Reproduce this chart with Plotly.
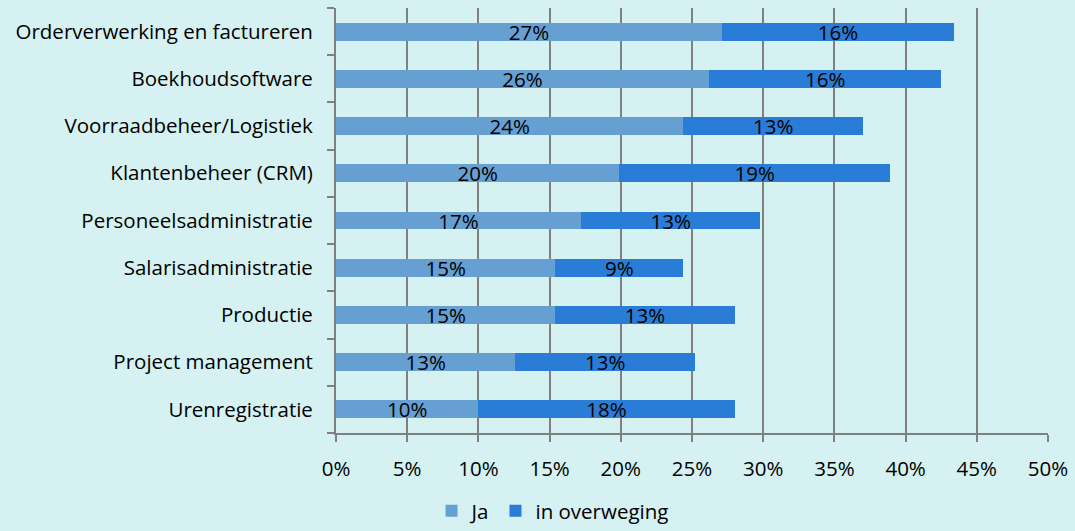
import plotly.graph_objects as go

categories = ["Orderverwerking en factureren", "Boekhoudsoftware", "Voorraadbeheer/Logistiek",
              "Klantenbeheer (CRM)", "Personeelsadministratie", "Salarisadministratie",
              "Productie", "Project management", "Urenregistratie"]
ja = [27.1, 26.2, 24.4, 19.9, 17.2, 15.4, 15.4, 12.6, 10.0]
overweging = [16.3, 16.3, 12.6, 19.0, 12.6, 9.0, 12.6, 12.6, 18.0]
x_ticks = [0, 5, 10, 15, 20, 25, 30, 35, 40, 45, 50]

FONT = "Open Sans"
FS = 20.5
fig = go.Figure()
fig.add_trace(go.Bar(y=categories, x=ja, name="Ja", orientation="h",
                     marker=dict(color="#669FD2", line=dict(width=0)),
                     texttemplate="%{x:.0f}%", textposition="inside", insidetextanchor="middle",
                     textfont=dict(color="black", size=FS, family=FONT)))
fig.add_trace(go.Bar(y=categories, x=overweging, name="in overweging", orientation="h",
                     marker=dict(color="#2A7DD6", line=dict(width=0)),
                     texttemplate="%{x:.0f}%", textposition="inside", insidetextanchor="middle",
                     textfont=dict(color="black", size=FS, family=FONT)))

fig.update_layout(
    barmode="stack", bargap=0.62,
    width=1075, height=531,
    paper_bgcolor="#D5F1F1", plot_bgcolor="#D5F1F1",
    margin=dict(l=336, r=27, t=8, b=98, autoexpand=False),
    font=dict(family=FONT, size=FS, color="black"),
    uniformtext=dict(minsize=FS, mode="show"),
    showlegend=True,
    legend=dict(orientation="h", xref="container", x=0.514, xanchor="center",
                yref="container", y=-0.03, yanchor="bottom",
                font=dict(size=FS), traceorder="normal", itemwidth=30, tracegroupgap=0),
)
fig.update_xaxes(range=[0, 50], tickvals=x_ticks, ticktext=[f"{v}%" for v in x_ticks],
                 showgrid=True, gridcolor="#808080", gridwidth=2,
                 showline=True, linecolor="#808080", linewidth=2,
                 ticks="outside", ticklen=7, tickcolor="#808080", tickwidth=2,
                 zeroline=False, ticklabelstandoff=9)
fig.update_yaxes(categoryorder="array", categoryarray=categories[::-1],
                 showgrid=False, showline=True, linecolor="#808080", linewidth=2,
                 ticks="outside", tickson="boundaries", ticklen=7, tickcolor="#808080", tickwidth=2,
                 ticklabelstandoff=17)

fig.write_html("out.html")
